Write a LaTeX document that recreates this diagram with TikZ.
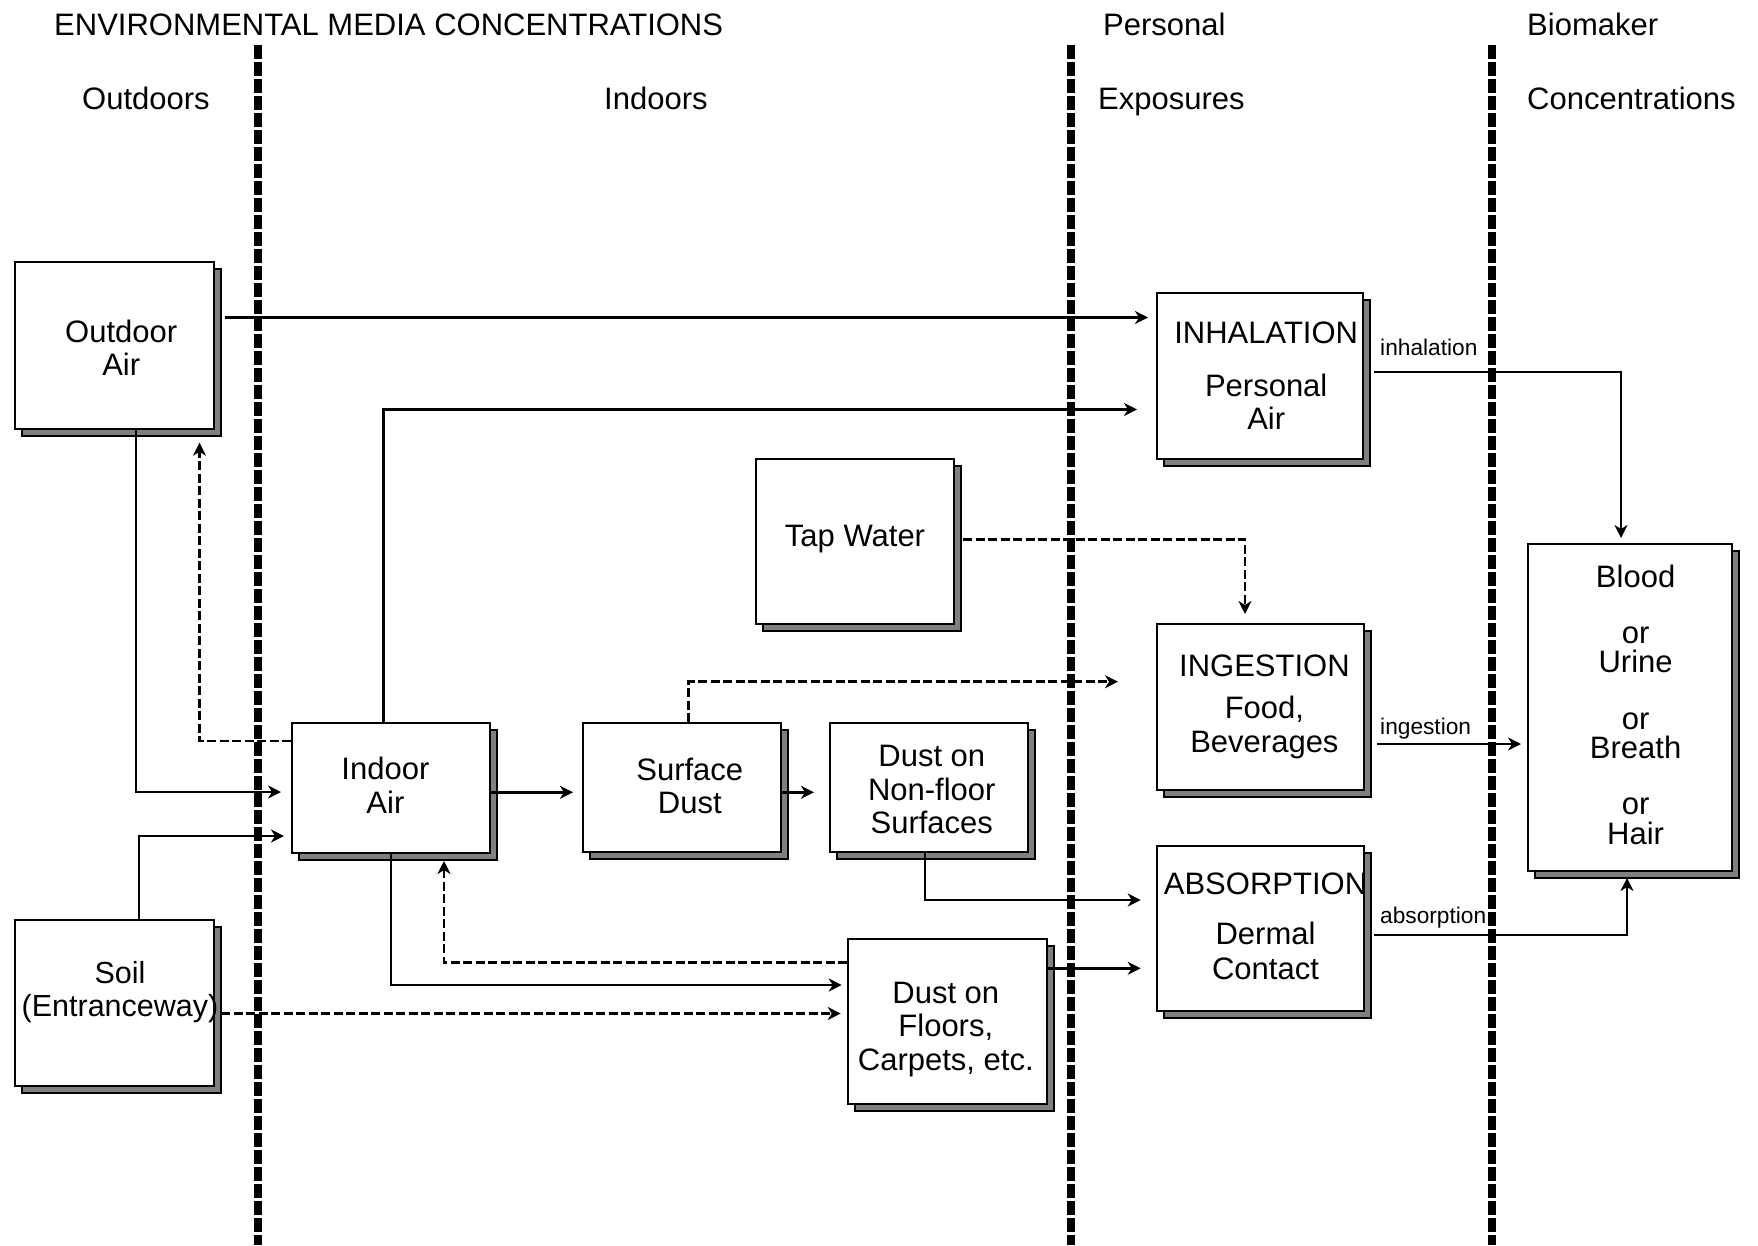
\documentclass[tikz,border=0pt]{standalone}
\usepackage{fontspec}
\setmainfont{Liberation Sans}
\usetikzlibrary{arrows.meta,shadows}
\begin{document}
\begin{tikzpicture}[x=1pt,y=1pt,
 box/.style={draw=black, line width=2pt, fill=white, rectangle, inner sep=0pt,
   general shadow={shadow xshift=7pt, shadow yshift=-7pt, fill=gray, draw=black, line width=1.5pt}},
 txt/.style={inner sep=0pt, align=center, font=\fontsize{31}{33.5}\selectfont},
 hdr/.style={anchor=base west, inner sep=0pt, font=\fontsize{31}{33}\selectfont},
 lbl/.style={anchor=base west, inner sep=0pt, font=\fontsize{22.7}{24}\selectfont},
 arr/.style={line width=2.4pt, -{Stealth[length=13pt,width=13pt,inset=4pt]}},
 darr/.style={arr, line width=2.6pt, dash pattern=on 9pt off 3.5pt},
 divider/.style={line width=8pt, dash pattern=on 13.5pt off 3.5pt}]
\useasboundingbox (0,0) rectangle (1758,-1245);

% dividers
\coordinate (d1t) at (258,-45);   \coordinate (d1b) at (258,-1245);
\coordinate (d2t) at (1071,-45);  \coordinate (d2b) at (1071,-1245);
\coordinate (d3t) at (1492,-45);  \coordinate (d3b) at (1492,-1245);
\draw[divider] (d1t) -- (d1b);
\draw[divider] (d2t) -- (d2b);
\draw[divider] (d3t) -- (d3b);

% headers
\node[hdr] (h1) at (54,-35) {ENVIRONMENTAL MEDIA CONCENTRATIONS};
\node[hdr] (h2) at (1103,-35) {Personal};
\node[hdr] (h3) at (1527,-35) {Biomaker};
\node[hdr] (h4) at (82,-109) {Outdoors};
\node[hdr] (h5) at (604,-109) {Indoors};
\node[hdr] (h6) at (1098,-109) {Exposures};
\node[hdr] (h7) at (1527,-109) {Concentrations};

% boxes
\node[box, minimum width=199pt, minimum height=167pt] (outdoor) at (114.5,-345.5) {};
\node[box, minimum width=199pt, minimum height=166pt] (soil) at (114.5,-1003) {};
\node[box, minimum width=198pt, minimum height=130pt] (indoor) at (391,-788) {};
\node[box, minimum width=198pt, minimum height=129pt] (surface) at (682,-787.5) {};
\node[box, minimum width=198pt, minimum height=129pt] (nonfloor) at (929,-787.5) {};
\node[box, minimum width=199pt, minimum height=165pt] (floors) at (947.5,-1021.5) {};
\node[box, minimum width=198pt, minimum height=165pt] (tap) at (855,-541.5) {};
\node[box, minimum width=206pt, minimum height=166pt] (inhal) at (1260,-376) {};
\node[box, minimum width=207pt, minimum height=166pt] (ingest) at (1260.5,-707) {};
\node[box, minimum width=207pt, minimum height=165pt] (absorb) at (1260.5,-928.5) {};
\node[box, minimum width=204pt, minimum height=327pt] (blood) at (1630,-707.5) {};

% box texts
\node[txt, font=\fontsize{31}{32.5}\selectfont] (outdoortxt) at (121.2,-347.7) {Outdoor\\Air};
\node[txt, font=\fontsize{30.5}{33}\selectfont] (soiltxt) at (120,-992.2) {Soil\\(Entranceway)};
\node[txt] (indoortxt) at (385.4,-785.2) {Indoor\\Air};
\node[txt] (surfacetxt) at (689.8,-785.8) {Surface\\Dust};
\node[txt] (nonfloortxt) at (931.8,-789.7) {Dust on\\Non-floor\\Surfaces};
\node[txt] (floorstxt) at (945.8,-1029.3) {Dust on\\Floors,\\Carpets, etc.};
\node[txt] (taptxt) at (855,-539) {Tap Water};
\node[txt, font=\fontsize{31}{33}\selectfont] (inhaltxt) at (1266.2,-376) {INHALATION\\[20pt]Personal\\Air};
\node[txt] (ingesttxt) at (1264.4,-707) {INGESTION\\[8.5pt]Food,\\[0.6pt]Beverages};
\node[txt] (absorbtxt) at (1265.5,-926.3) {ABSORPTION\\[17.4pt]Dermal\\[1.5pt]Contact};
\node[txt, font=\fontsize{31}{29.2}\selectfont] (bloodtxt) at (1635.6,-704.7)
  {Blood\\[27.2pt]or\\Urine\\[27.2pt]or\\Breath\\[27.2pt]or\\Hair};

% connectors
\coordinate (o1) at ([xshift=10pt,yshift=28pt]outdoor.east);
\draw[arr, shorten >=8pt] (o1) -- (inhal.west |- o1);
\draw[arr, shorten >=19pt] ([xshift=-7.5pt]indoor.north) |- ([yshift=-33.5pt]inhal.west);
\draw[arr, shorten >=10pt] ([xshift=21.5pt]outdoor.south) |- ([yshift=-4pt]indoor.west);
\draw[darr, shorten >=12.7pt] ([yshift=47pt]indoor.west) -| ([xshift=85pt]outdoor.south);
\draw[arr, shorten >=7pt] ([xshift=24.5pt]soil.north) |- ([yshift=-48pt]indoor.west);
\coordinate (s1) at ([xshift=6pt,yshift=-10.5pt]soil.east);
\draw[darr, shorten >=6.3pt] (s1) -- (floors.west |- s1);
\draw[arr, shorten >=5.3pt] (indoor.south) |- ([yshift=36.5pt]floors.west);
\draw[darr, shorten >=7pt] ([yshift=58.8pt]floors.west) -| ([xshift=53pt]indoor.south);
\coordinate (i1) at ([yshift=-4.3pt]indoor.east);
\draw[arr, shorten >=9pt] (i1) -- (surface.west |- i1);
\coordinate (u1) at (surface.east |- i1);
\draw[arr, shorten >=15pt] (u1) -- (nonfloor.west |- u1);
\draw[darr, shorten >=38pt] ([xshift=6.3pt]surface.north) |- ([yshift=25.3pt]ingest.west);
\draw[darr, shorten >=9pt] ([xshift=8pt,yshift=2.2pt]tap.east) -| ([xshift=-15.5pt]ingest.north);
\draw[arr, shorten >=15.3pt] ([xshift=-4pt]nonfloor.south) |- ([yshift=28.5pt]absorb.west);
\coordinate (f1) at ([yshift=53.2pt]floors.east);
\draw[arr, shorten >=15.3pt] (f1) -- (absorb.west |- f1);
\draw[arr, shorten >=5pt] ([xshift=9.7pt,yshift=4.3pt]inhal.east) -| ([xshift=-9pt]blood.north);
\coordinate (g1) at ([xshift=12pt,yshift=-37pt]ingest.east);
\draw[arr, shorten >=6pt] (g1) -- (blood.west |- g1);
\draw[arr, shorten >=6pt] ([xshift=9pt,yshift=-6.5pt]absorb.east) -| ([xshift=-3pt]blood.south);

% labels
\node[lbl] (l1) at (1380,-355) {inhalation};
\node[lbl] (l2) at (1380,-734) {ingestion};
\node[lbl] (l3) at (1380,-923) {absorption};
\end{tikzpicture}
\end{document}
